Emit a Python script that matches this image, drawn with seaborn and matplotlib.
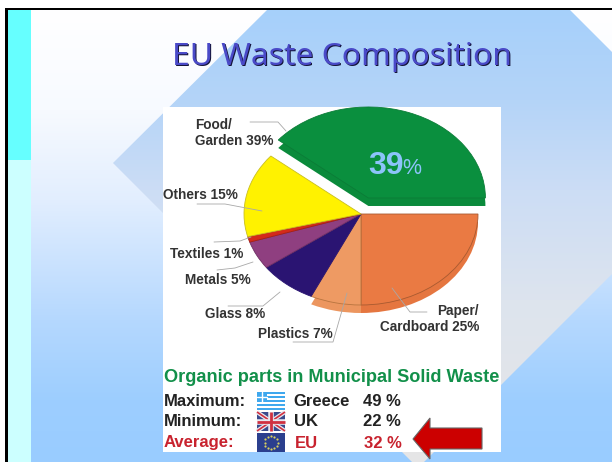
import numpy as np
import matplotlib
matplotlib.use("Agg")
import matplotlib.pyplot as plt
from matplotlib.colors import to_rgb
from matplotlib.patches import Polygon, Rectangle
import seaborn as sns

# waste shares, clockwise from the exploded slice
categories = ["Food/\nGarden", "Paper/\nCardboard", "Plastics", "Glass", "Metals", "Textiles", "Others"]
shares = [39, 25, 7, 8, 5, 1, 15]

# organic parts table
table_names = ["Maximum:", "Minimum:", "Average:"]
table_places = ["Greece", "UK", "EU"]
table_values = [49, 22, 32]

W, H = 612, 462
CX, CY, RX, RY = 361, 214, 117, 91
DEPTH = 8

sns.set_theme(style="white")
plt.rcParams["font.family"] = ["Liberation Sans", "DejaVu Sans"]
slice_colors = sns.color_palette(["#0A8F3E", "#EA7A43", "#EE9A63", "#2A1472", "#8F3F80", "#D42A1A", "#FFF200"])
# side wall only shows under the food, paper and plastics slices
side_colors = [to_rgb("#0A8A3B"), to_rgb("#E57640"), to_rgb("#EC965F"), "none", "none", "none", "none"]
slice_edges = ["#0A7C37", "#A85A30", "#B8743F", "#2A1472", "#6F2F63", "#A81F12", "#C8BE20"]


def vgrad(ys, cols, y0=0, y1=H):
    """vertical gradient image, one row per pixel"""
    rows = np.arange(y0, y1) + 0.5
    rgb = np.array([to_rgb(c) for c in cols])
    return np.stack([np.interp(rows, ys, rgb[:, i]) for i in range(3)], axis=1)[:, None, :]


fig = plt.figure(figsize=(W / 100, H / 100), dpi=100, facecolor="white")

# ---- slide background
bg = fig.add_axes([0, 0, 1, 1], zorder=0)
bg.imshow(vgrad([10, 110, 200, 320, 400, 462],
                ["#FFFFFF", "#F7FAFF", "#E2EEFE", "#B5D8FE", "#9DCEFF", "#99CCFF"]),
          extent=(31, W, H, 0), aspect="auto", zorder=1)
diamond_img = bg.imshow(vgrad([10, 100, 190, 300, 462],
                              ["#A6D0FB", "#B4D4F8", "#CCDDF5", "#DDE4EE", "#E6E6E6"]),
                        extent=(31, W, H, 0), aspect="auto", zorder=2)
diamond = Polygon([(113, 163), (267, 10), (570, 10), (723, 163), (418, 468)], transform=bg.transData,
                  fc="none", ec="none")
bg.add_patch(diamond)
diamond_img.set_clip_path(diamond)
bg.add_patch(Rectangle((8, 10), 23, 150, fc="#66FFFF", ec="none", zorder=3))
bg.add_patch(Rectangle((8, 160), 23, H - 160, fc="#CCFFFF", ec="none", zorder=3))
bg.add_patch(Rectangle((5, 8), W - 5, 2.4, fc="black", ec="none", zorder=4))
bg.add_patch(Rectangle((5, 8), 3, H - 8, fc="black", ec="none", zorder=4))
bg.add_patch(Rectangle((163, 107), 338, 345, fc="white", ec="none", zorder=5))
bg.set_xlim(0, W)
bg.set_ylim(H, 0)
bg.axis("off")

# ---- pie, one unit = RX by RY pixels, side wall is a second pie shifted down
span = 1.35
pie_ax = fig.add_axes([(CX - span * RX) / W, 1 - (CY + span * RY) / H, 2 * span * RX / W, 2 * span * RY / H],
                      zorder=1)
explode = [0.187, 0, 0, 0, 0, 0, 0]
pie_ax.pie(shares, colors=side_colors, startangle=140.4, counterclock=False, explode=explode,
           center=(0, -DEPTH / RY), wedgeprops={"linewidth": 0})
wedges, _ = pie_ax.pie(shares, colors=slice_colors, startangle=140.4, counterclock=False, explode=explode,
                       wedgeprops={"linewidth": 0.6})
for w, ec in zip(wedges, slice_edges):
    w.set_edgecolor(ec)
pie_ax.set_aspect("auto")
pie_ax.set_xlim(-span, span)
pie_ax.set_ylim(-span, span)
pie_ax.patch.set_alpha(0)
pie_ax.axis("off")

# ---- everything on top, in pixel coordinates
top = fig.add_axes([0, 0, 1, 1], zorder=2)
top.set_xlim(0, W)
top.set_ylim(H, 0)
top.axis("off")

# title with hard shadow
title = "EU Waste Composition"
top.text(343, 58, title, fontsize=22.9, family="Noto Sans", color="#15153A", ha="center", va="center")
top.text(342, 57, title, fontsize=22.9, family="Noto Sans", color="#4A4AC8", ha="center", va="center")

# leader lines
leaders = [
    [(250, 122), (278, 122), (286, 131)],
    [(197, 204), (225, 204), (262, 211)],
    [(214, 242), (240, 241), (251, 237)],
    [(217, 270), (235, 268), (253, 262)],
    [(228, 306), (263, 306), (280, 292)],
    [(293, 342), (333, 342), (347, 293)],
    [(427, 312), (410, 312), (392, 288)],
]
for pts in leaders:
    xs, ys = zip(*pts)
    top.plot(xs, ys, color="#a8a8a8", lw=0.6)

# slice labels: category index -> anchor
label_pos = {
    0: (195, 133, "left"), 1: (479, 319, "right"), 2: (258, 334, "left"), 3: (205, 314, "left"),
    4: (185, 280, "left"), 5: (170, 254, "left"), 6: (163, 195, "left"),
}
for i, (name, val) in enumerate(zip(categories, shares)):
    x, y, ha = label_pos[i]
    top.text(x, y, f"{name} {val}%", fontsize=9.8, fontweight="bold", color="#333333", ha=ha, va="center",
             multialignment=ha, linespacing=1.15)

top.text(368, 166, str(shares[0]), fontsize=23, fontweight="bold", color="#8CC4FA", ha="left", va="center")
top.text(402, 168, "%", fontsize=15.5, color="#8CC4FA", ha="left", va="center")

# organic parts table
top.text(163.5, 377, "Organic parts in Municipal Solid Waste", fontsize=13.1, fontweight="bold",
         color="#12904A", ha="left", va="center")
row_y = [402, 422, 443]
place_x = [293, 294, 295]
value_x = [363, 363, 364]
row_col = ["#222222", "#222222", "#C8222E"]
for i in range(3):
    top.text(164, row_y[i], table_names[i], fontsize=12, fontweight="bold", color=row_col[i], va="center")
    top.text(place_x[i], row_y[i], table_places[i], fontsize=12, fontweight="bold", color=row_col[i], va="center")
    top.text(value_x[i], row_y[i], f"{table_values[i]} %", fontsize=12, fontweight="bold", color=row_col[i],
             va="center")

# flags
fx, fw = 257, 28
# greece
gy, gh = 392, 18
for k in range(9):
    top.add_patch(Rectangle((fx, gy + k * gh / 9), fw, gh / 9, fc="#3FA8EE" if k % 2 == 0 else "white", ec="none"))
top.add_patch(Rectangle((fx, gy), 10, 10, fc="#3FA8EE", ec="none"))
top.plot([fx + 5, fx + 5], [gy, gy + 10], color="white", lw=1)
top.plot([fx, fx + 10], [gy + 5, gy + 5], color="white", lw=1)
# uk
uy, uh = 412, 19
top.add_patch(Rectangle((fx, uy), fw, uh, fc="#3A4A8C", ec="none"))
for lw, c in [(3, "#E8E8F0"), (1.2, "#D03040")]:
    top.plot([fx, fx + fw], [uy, uy + uh], color=c, lw=lw, solid_capstyle="butt")
    top.plot([fx, fx + fw], [uy + uh, uy], color=c, lw=lw, solid_capstyle="butt")
top.plot([fx + fw / 2] * 2, [uy, uy + uh], color="#E8E8F0", lw=4, solid_capstyle="butt")
top.plot([fx, fx + fw], [uy + uh / 2] * 2, color="#E8E8F0", lw=4, solid_capstyle="butt")
top.plot([fx + fw / 2] * 2, [uy, uy + uh], color="#D03040", lw=2, solid_capstyle="butt")
top.plot([fx, fx + fw], [uy + uh / 2] * 2, color="#D03040", lw=2, solid_capstyle="butt")
# eu
ey, eh = 433, 19
top.add_patch(Rectangle((fx, ey), fw, eh, fc="#2B3F8E", ec="none"))
ang = np.deg2rad(np.arange(0, 360, 30))
top.scatter(fx + fw / 2 + 6.5 * np.cos(ang), ey + eh / 2 + 6.5 * np.sin(ang), s=2.5, color="#D8D060", linewidths=0)

# red arrow
top.add_patch(Polygon([(413, 439), (430, 418), (430, 428), (482, 428), (482, 449), (430, 449), (430, 459)],
                      closed=True, fc="#CC0000", ec="#666666", lw=0.8, zorder=5))

fig.savefig("out.png", dpi=100)
